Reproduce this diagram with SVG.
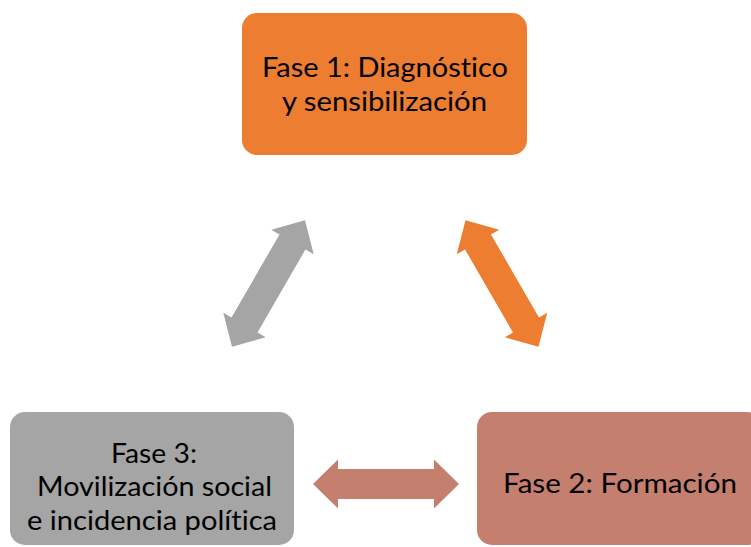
<svg xmlns="http://www.w3.org/2000/svg" width="751" height="547" viewBox="0 0 751 547">
<style>
  .lbl { font-family: Lato, "Open Sans", "Liberation Sans", sans-serif; font-size: 27px; fill: #000000; text-anchor: middle; font-variant-ligatures: none; font-feature-settings: "liga" 0, "dlig" 0, "clig" 0; }
  .box { stroke: none; }
</style>
<defs>
  <polygon id="dblarrow" points="-73,0 -48,-24.5 -48,-15 48,-15 48,-24.5 73,0 48,24.5 48,15 -48,15 -48,24.5"/>
</defs>
<rect width="751" height="547" fill="#ffffff"/>
<g id="connectors">
  <use href="#dblarrow" transform="translate(268.5,283.5) rotate(-60)" fill="#A5A5A5"/>
  <use href="#dblarrow" transform="translate(502,283.5) rotate(60)" fill="#ED7D31"/>
  <use href="#dblarrow" transform="translate(386,484)" fill="#C47F6F"/>
</g>
<g id="fase1">
  <rect class="box" x="242" y="13" width="285" height="142" rx="15" ry="15" fill="#ED7D31"/>
  <text class="lbl" x="385" y="76.5" textLength="246" lengthAdjust="spacingAndGlyphs">Fase 1: Diagnóstico</text>
  <text class="lbl" x="384.5" y="110.5" textLength="205" lengthAdjust="spacingAndGlyphs">y sensibilización</text>
</g>
<g id="fase3">
  <rect class="box" x="10" y="412" width="284" height="133" rx="15" ry="15" fill="#A5A5A5"/>
  <text class="lbl" x="154" y="462.5" textLength="86" lengthAdjust="spacingAndGlyphs">Fase 3:</text>
  <text class="lbl" x="154.5" y="496" textLength="235" lengthAdjust="spacingAndGlyphs">Movilización social</text>
  <text class="lbl" x="152" y="529.5" textLength="250" lengthAdjust="spacingAndGlyphs">e incidencia política</text>
</g>
<g id="fase2">
  <rect class="box" x="477" y="412" width="285" height="133" rx="15" ry="15" fill="#C47F6F"/>
  <text class="lbl" x="620" y="493" textLength="234" lengthAdjust="spacingAndGlyphs">Fase 2: Formación</text>
</g>
</svg>
